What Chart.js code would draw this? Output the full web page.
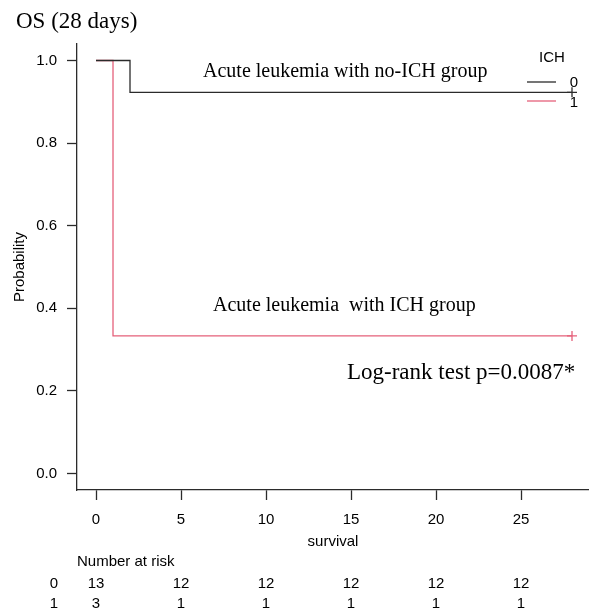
<!DOCTYPE html>
<html>
<head>
  <script src="https://cdn.jsdelivr.net/npm/chart.js@4.4.0/dist/chart.umd.min.js"></script>
<style>
  body { margin: 0; background: #fff; }
</style>
</head>
<body>
  <canvas id="kmChart" width="589" height="613"></canvas>
  <script>
    // Kaplan-Meier steps for each ICH group
    var times0 = [0, 2, 28];
    var surv0 = [1, 0.923, 0.923];
    var times1 = [0, 1, 28];
    var surv1 = [1, 0.333, 0.333];

    var xTicks = [0, 5, 10, 15, 20, 25];
    var yTicks = [0, 0.2, 0.4, 0.6, 0.8, 1.0];

    // number at risk table
    var riskTimes = [0, 5, 10, 15, 20, 25];
    var risk0 = [13, 12, 12, 12, 12, 12];
    var risk1 = [3, 1, 1, 1, 1, 1];
    var groups = ['0', '1'];

    var black = '#2b2b2b';
    var red = '#E5607A';
    var sans = '"Liberation Sans", Arial, sans-serif';
    var serif = '"Liberation Serif", "Times New Roman", serif';

    function toPoints(t, s) {
      var pts = [];
      for (var i = 0; i < t.length; i++) pts.push({x: t[i], y: s[i]});
      return pts;
    }
    // censor mark only at the last point
    function censorRadius(ctx) {
      return ctx.dataIndex === ctx.dataset.data.length - 1 ? 5 : 0;
    }

    var extras = {
      id: 'extras',
      afterDraw: function (chart) {
        var c = chart.ctx;
        var xs = chart.scales.x;
        c.save();
        c.fillStyle = '#000';
        c.textBaseline = 'alphabetic';
        c.textAlign = 'left';
        c.font = '23px ' + serif;
        c.fillText('OS (28 days)', 16, 28);
        c.font = '20px ' + serif;
        c.fillText('Acute leukemia with no-ICH group', 203, 77);
        c.fillText('Acute leukemia  with ICH group', 213, 311);
        c.font = '23px ' + serif;
        c.fillText('Log-rank test p=0.0087*', 347, 379);

        // legend
        c.font = '15px ' + sans;
        c.textAlign = 'center';
        c.textBaseline = 'middle';
        c.fillText('ICH', 552, 58);
        c.lineWidth = 1.3;
        c.strokeStyle = black;
        c.beginPath(); c.moveTo(527, 82); c.lineTo(556, 82); c.stroke();
        c.strokeStyle = red;
        c.beginPath(); c.moveTo(527, 101); c.lineTo(556, 101); c.stroke();
        c.fillText('0', 574, 83);
        c.fillText('1', 574, 103);

        // number at risk
        c.textAlign = 'left';
        c.fillText('Number at risk', 77, 562);
        c.textAlign = 'center';
        var rows = [risk0, risk1];
        for (var r = 0; r < rows.length; r++) {
          var y = 584 + r * 19.5;
          c.fillText(groups[r], 54, y);
          for (var i = 0; i < riskTimes.length; i++) {
            c.fillText(String(rows[r][i]), xs.getPixelForValue(riskTimes[i]), y);
          }
        }
        c.restore();
      }
    };

    var ctx = document.getElementById('kmChart');
    var myChart = new Chart(ctx, {
      type: 'line',
      data: {
        datasets: [
          {
            label: '0',
            data: toPoints(times0, surv0),
            borderColor: black,
            borderWidth: 1.3,
            stepped: true,
            fill: false,
            pointStyle: 'cross',
            pointRadius: censorRadius,
            pointBorderColor: black,
            pointBorderWidth: 1.3
          },
          {
            label: '1',
            data: toPoints(times1, surv1),
            borderColor: red,
            borderWidth: 1.3,
            stepped: true,
            fill: false,
            pointStyle: 'cross',
            pointRadius: censorRadius,
            pointBorderColor: red,
            pointBorderWidth: 1.3
          }
        ]
      },
      options: {
        responsive: false,
        animation: false,
        layout: { autoPadding: false, padding: { top: 44, right: 0, left: 0, bottom: 0 } },
        plugins: {
          legend: { display: false },
          tooltip: { enabled: false }
        },
        scales: {
          x: {
            type: 'linear',
            min: -1.118,
            max: 29.0,
            afterBuildTicks: function (s) { s.ticks = xTicks.map(function (v) { return {value: v}; }); },
            afterFit: function (s) { s.height = 123; s.paddingLeft = 0; s.paddingRight = 0; },
            grid: { drawOnChartArea: false, drawTicks: true, tickLength: 10, tickColor: black, tickWidth: 1.3 },
            border: { display: true, color: black, width: 1.3 },
            ticks: { color: '#000', padding: 11, font: { family: sans, size: 15 } },
            title: { display: true, text: 'survival', color: '#000', font: { family: sans, size: 15 }, padding: { top: 0, bottom: 62 } }
          },
          y: {
            min: -0.04,
            max: 1.04,
            afterBuildTicks: function (s) { s.ticks = yTicks.map(function (v) { return {value: v}; }); },
            afterFit: function (s) { s.width = 77; s.paddingTop = 0; s.paddingBottom = 0; },
            grid: { drawOnChartArea: false, drawTicks: true, tickLength: 10, tickColor: black, tickWidth: 1.3 },
            border: { display: true, color: black, width: 1.3 },
            ticks: {
              color: '#000', padding: 10, font: { family: sans, size: 15 },
              callback: function (v) { return Number(v).toFixed(1); }
            },
            title: { display: true, text: 'Probability', color: '#000', font: { family: sans, size: 15 }, padding: { top: 11, bottom: 0 } }
          }
        }
      },
      plugins: [extras]
    });
  </script>
</body>
</html>
